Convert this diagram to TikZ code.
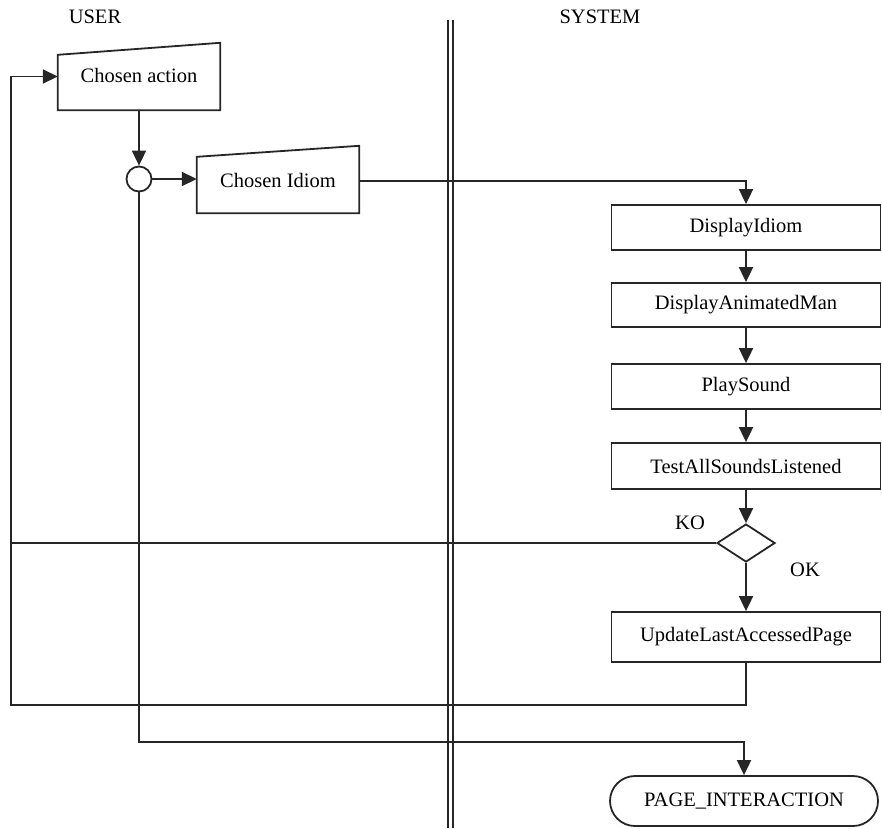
\documentclass[tikz,border=0pt]{standalone}
\usepackage{fontspec}
\setmainfont{Liberation Serif}
\usetikzlibrary{shapes.geometric,arrows.meta,calc}

\tikzset{
  txt/.style={font=\fontsize{20.5}{24}\selectfont, inner sep=0pt},
  flow/.style={line width=1.8pt, draw=black!85},
  arr/.style={flow, -{Triangle[length=15pt,width=14pt]}},
  procbox/.style={txt, draw=black!85, line width=1.8pt, minimum width=269pt},
  inbox/.style={txt, minimum width=162pt, minimum height=67pt},
}

\begin{document}
\begin{tikzpicture}[x=1pt,y=-1pt]
  \useasboundingbox (0,0) rectangle (882,828);

  % swimlane headers and separator
  \node[txt] (user) at (95,17) {USER};
  \node[txt] (sys) at (600,17) {SYSTEM};
  \coordinate (sepA) at (448,20);
  \coordinate (sepB) at (448,828);
  \draw[flow] (sepA) -- (sepB);
  \draw[flow] ([xshift=5pt]sepA) -- ([xshift=5pt]sepB);

  % user side: manual inputs and the junction
  \node[inbox] (act) at (139,76.5) {};
  \node[txt] at (139,75) {Chosen action};
  \draw[flow] (act.south west) -- (act.south east) -- (act.north east)
              -- ([yshift=-12pt]act.north west) -- cycle;

  \node[circle, draw=black!85, line width=1.8pt, minimum size=25pt, inner sep=0pt] (junc) at (139,179) {};

  \node[inbox] (idiom) at (278,179.5) {};
  \node[txt] at (278,180) {Chosen Idiom};
  \draw[flow] (idiom.south west) -- (idiom.south east) -- (idiom.north east)
              -- ([yshift=-11pt]idiom.north west) -- cycle;

  % system side: processing steps
  \node[procbox, minimum height=45pt] (disp) at (746,227.5) {DisplayIdiom};
  \node[procbox, minimum height=44pt] (anim) at (746,305) {DisplayAnimatedMan};
  \node[procbox, minimum height=45pt] (play) at (746,386.5) {PlaySound};
  \node[procbox, minimum height=46pt] (test) at (746,466) {TestAllSoundsListened};
  \node[diamond, draw=black!85, line width=1.8pt, minimum width=58pt, minimum height=38pt,
        aspect=1.53, inner sep=0pt] (dec) at (746,543) {};
  \node[procbox, minimum height=50pt] (upd) at (746,637) {UpdateLastAccessedPage};
  \node[txt, draw=black!85, line width=1.8pt, rounded corners=25pt, minimum width=268pt,
        minimum height=50pt] (page) at (744,801) {PAGE\_INTERACTION};

  \node[txt] (ko) at (690,523) {KO};
  \node[txt] (ok) at (805,570) {OK};

  % routing points
  \coordinate (fb) at (11,705);
  \coordinate (koend) at (11,543);
  \coordinate (bus) at (744,742);

  % connectors
  \draw[arr] (act.south) -- (junc.north);
  \draw[arr] (junc.east) -- (junc.east -| idiom.west);
  \draw[arr] (idiom.east |- 0,181) -| (disp.north);
  \draw[arr] (disp) -- (anim);
  \draw[arr] (anim) -- (play);
  \draw[arr] (play) -- (test);
  \draw[arr] (test) -- (dec);
  \draw[arr] (dec) -- (upd);
  \draw[flow] (dec.west) -- (koend);
  \draw[arr] (upd.south) |- (fb) |- (act.west);
  \draw[arr] (junc.south) |- (bus) -- (page.north);
\end{tikzpicture}
\end{document}
